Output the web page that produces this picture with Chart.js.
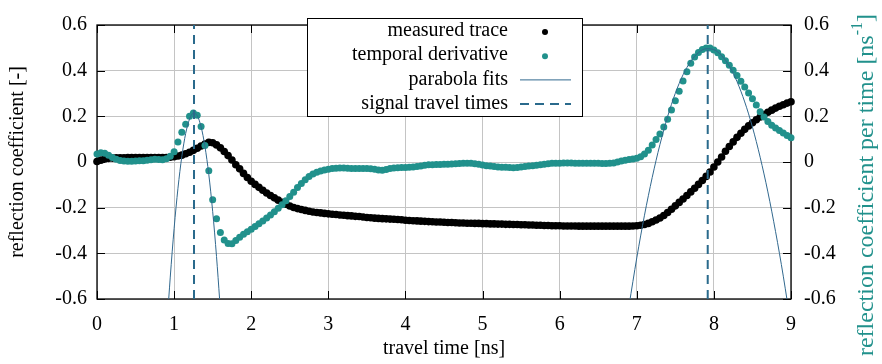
<!DOCTYPE html>
<html>
<head>
<meta charset="utf-8">
<script src="https://cdn.jsdelivr.net/npm/chart.js@4.4.1/dist/chart.umd.min.js"></script>
<style>
  html, body { margin: 0; padding: 0; background: #fff; }
  #wrap { width: 882px; height: 364px; position: relative; }
</style>
</head>
<body>
<div id="wrap"><canvas id="chart"></canvas></div>
<script>
'use strict';

// sampling of the trace (ns between two samples)
const sampleStep = 0.05;

// measured reflection coefficient, one value per sample from 0 ns
const measuredTrace = [
    0.002, 0.008, 0.013, 0.016, 0.017, 0.018, 0.018, 0.018, 0.019, 0.019,
    0.019, 0.019, 0.019, 0.019, 0.019, 0.019, 0.019, 0.019, 0.020, 0.021,
    0.023, 0.026, 0.030, 0.036, 0.043, 0.051, 0.060, 0.070, 0.079, 0.086,
    0.084, 0.075, 0.062, 0.046, 0.028, 0.009, -0.012, -0.030, -0.050, -0.068,
    -0.084, -0.098, -0.111, -0.124, -0.136, -0.147, -0.157, -0.167, -0.176, -0.185,
    -0.193, -0.199, -0.204, -0.208, -0.212, -0.216, -0.219, -0.221, -0.223, -0.225,
    -0.227, -0.229, -0.230, -0.232, -0.233, -0.235, -0.236, -0.238, -0.239, -0.241,
    -0.243, -0.244, -0.246, -0.247, -0.248, -0.249, -0.250, -0.251, -0.252, -0.253,
    -0.255, -0.256, -0.257, -0.258, -0.259, -0.260, -0.261, -0.262, -0.263, -0.263,
    -0.264, -0.265, -0.265, -0.266, -0.267, -0.267, -0.268, -0.268, -0.269, -0.269,
    -0.270, -0.270, -0.271, -0.271, -0.272, -0.272, -0.273, -0.273, -0.274, -0.274,
    -0.275, -0.275, -0.276, -0.276, -0.277, -0.277, -0.278, -0.278, -0.279, -0.279,
    -0.279, -0.280, -0.280, -0.280, -0.280, -0.281, -0.281, -0.281, -0.281, -0.281,
    -0.281, -0.281, -0.281, -0.281, -0.281, -0.281, -0.281, -0.281, -0.281, -0.280,
    -0.279, -0.277, -0.274, -0.269, -0.262, -0.254, -0.245, -0.234, -0.221, -0.207,
    -0.192, -0.177, -0.162, -0.147, -0.131, -0.115, -0.098, -0.081, -0.063, -0.044,
    -0.022, 0.000, 0.022, 0.047, 0.068, 0.088, 0.108, 0.126, 0.143, 0.158,
    0.172, 0.185, 0.197, 0.208, 0.218, 0.227, 0.236, 0.244, 0.251, 0.258,
    0.264
];

// temporal derivative (ns^-1), same sampling
const temporalDerivative = [
    0.035, 0.040, 0.038, 0.030, 0.020, 0.012, 0.007, 0.004, 0.003, 0.003,
    0.004, 0.005, 0.006, 0.008, 0.010, 0.012, 0.011, 0.010, 0.014, 0.025,
    0.045, 0.088, 0.130, 0.165, 0.200, 0.215, 0.205, 0.155, 0.072, -0.038,
    -0.165, -0.248, -0.309, -0.342, -0.357, -0.358, -0.344, -0.330, -0.316, -0.305,
    -0.294, -0.282, -0.270, -0.258, -0.245, -0.232, -0.218, -0.203, -0.187, -0.170,
    -0.151, -0.132, -0.112, -0.094, -0.078, -0.064, -0.053, -0.045, -0.039, -0.035,
    -0.032, -0.029, -0.027, -0.026, -0.026, -0.027, -0.028, -0.029, -0.029, -0.029,
    -0.029, -0.030, -0.032, -0.035, -0.036, -0.033, -0.028, -0.026, -0.025, -0.024,
    -0.024, -0.023, -0.022, -0.020, -0.017, -0.014, -0.012, -0.012, -0.011, -0.011,
    -0.010, -0.010, -0.009, -0.008, -0.007, -0.006, -0.005, -0.006, -0.008, -0.010,
    -0.013, -0.016, -0.018, -0.020, -0.022, -0.023, -0.023, -0.024, -0.025, -0.024,
    -0.022, -0.020, -0.018, -0.016, -0.014, -0.012, -0.010, -0.008, -0.006, -0.005,
    -0.005, -0.004, -0.004, -0.004, -0.005, -0.005, -0.005, -0.005, -0.006, -0.006,
    -0.006, -0.007, -0.007, -0.006, -0.004, 0.000, 0.004, 0.008, 0.011, 0.013,
    0.016, 0.023, 0.035, 0.052, 0.075, 0.098, 0.123, 0.153, 0.187, 0.228,
    0.268, 0.310, 0.355, 0.395, 0.432, 0.460, 0.480, 0.493, 0.499, 0.499,
    0.491, 0.478, 0.461, 0.443, 0.424, 0.402, 0.379, 0.354, 0.328, 0.302,
    0.277, 0.250, 0.220, 0.197, 0.177, 0.161, 0.149, 0.138, 0.127, 0.116,
    0.106
];

// parabola fit around the first peak
const fit1Times = [0.93, 0.95, 1.00, 1.05, 1.10, 1.15, 1.20, 1.25, 1.30, 1.35, 1.40, 1.45, 1.50, 1.55, 1.59];
const fit1Values = [-0.600, -0.504, -0.291, -0.115, 0.024, 0.125, 0.188, 0.214, 0.203, 0.154, 0.068, -0.055, -0.216, -0.414, -0.600];

// parabola fit around the second peak
const fit2Times = [6.9, 7.0, 7.1, 7.2, 7.3, 7.4, 7.5, 7.6, 7.7, 7.8, 7.9, 8.0, 8.1, 8.2, 8.3, 8.4, 8.5, 8.6, 8.7, 8.8, 8.9, 9.0];
const fit2Values = [-0.628, -0.420, -0.233, -0.068, 0.076, 0.199, 0.301, 0.382, 0.441, 0.479, 0.496, 0.492, 0.466, 0.420, 0.352, 0.263, 0.153, 0.021, -0.131, -0.305, -0.500, -0.717];

// signal travel times (ns), vertex of each fit
const travelTimes = [1.258, 7.92];

const xTicks = [0, 1, 2, 3, 4, 5, 6, 7, 8, 9];
const yTicks = [-0.6, -0.4, -0.2, 0, 0.2, 0.4, 0.6];
const yTickLabels = ['-0.6', '-0.4', '-0.2', '0', '0.2', '0.4', '0.6'];

const FONT = "'Liberation Serif', 'Times New Roman', serif";
const TEAL = '#21918c';
const FIT_BLUE = '#31688e';

const toPoints = (vals) => vals.map((v, i) => ({ x: +(i * sampleStep).toFixed(2), y: v }));
const pairPoints = (xs, ys) => xs.map((x, i) => ({ x: x, y: ys[i] }));

Chart.defaults.font.family = FONT;
Chart.defaults.font.size = 20;
Chart.defaults.color = '#000';

// box + inward tick marks, gnuplot style
const framePlugin = {
    id: 'frame',
    beforeDatasetsDraw(chart) {
        const { ctx, chartArea: a, scales } = chart;
        ctx.save();
        ctx.strokeStyle = '#000';
        ctx.lineWidth = 1;
        const tl = 8;
        ctx.beginPath();
        xTicks.forEach(v => {
            const px = Math.round(scales.x.getPixelForValue(v)) + 0.5;
            ctx.moveTo(px, a.bottom); ctx.lineTo(px, a.bottom - tl);
            ctx.moveTo(px, a.top); ctx.lineTo(px, a.top + tl);
        });
        yTicks.forEach(v => {
            const py = Math.round(scales.y.getPixelForValue(v)) + 0.5;
            ctx.moveTo(a.left, py); ctx.lineTo(a.left + tl, py);
            ctx.moveTo(a.right, py); ctx.lineTo(a.right - tl, py);
        });
        ctx.stroke();
        ctx.lineWidth = 1.3;
        ctx.strokeRect(a.left, a.top, a.right - a.left, a.bottom - a.top);
        ctx.restore();
    }
};

// key box in the upper middle, text right aligned with symbol after it
const keyPlugin = {
    id: 'key',
    afterDraw(chart) {
        const { ctx } = chart;
        const seen = new Set();
        const items = chart.data.datasets.filter(d => {
            if (seen.has(d.label)) return false;
            seen.add(d.label);
            return true;
        }).sort((a, b) => a.keyRank - b.keyRank);
        const box = { x: 307, y: 18, w: 275, h: 98 };
        ctx.save();
        ctx.fillStyle = '#fff';
        ctx.fillRect(box.x, box.y, box.w, box.h);
        ctx.strokeStyle = '#000';
        ctx.lineWidth = 1;
        ctx.strokeRect(box.x + 0.5, box.y + 0.5, box.w, box.h);
        ctx.font = '20px ' + FONT;
        ctx.textAlign = 'right';
        ctx.textBaseline = 'middle';
        items.forEach((d, i) => {
            const y = 31 + i * 24.2;
            ctx.fillStyle = '#000';
            ctx.fillText(d.label, 508, y);
            if (d.showLine) {
                ctx.strokeStyle = d.borderColor;
                ctx.lineWidth = d.borderWidth;
                ctx.setLineDash(d.borderDash || []);
                ctx.beginPath();
                ctx.moveTo(520, y + 0.5);
                ctx.lineTo(571, y + 0.5);
                ctx.stroke();
                ctx.setLineDash([]);
            } else {
                ctx.fillStyle = d.pointBackgroundColor;
                ctx.beginPath();
                ctx.arc(545, y + 1, 3, 0, Math.PI * 2);
                ctx.fill();
            }
        });
        ctx.restore();
    }
};

// right axis label with superscript unit
const y2TitlePlugin = {
    id: 'y2title',
    afterDraw(chart) {
        const { ctx } = chart;
        const main = 'reflection coefficient per time [ns';
        const sup = '-1';
        const tail = ']';
        ctx.save();
        ctx.translate(867, 185);
        ctx.rotate(-Math.PI / 2);
        ctx.fillStyle = TEAL;
        ctx.textBaseline = 'middle';
        ctx.textAlign = 'left';
        const big = '24px ' + FONT;
        const small = '16px ' + FONT;
        ctx.font = big;
        const w1 = ctx.measureText(main).width;
        const w3 = ctx.measureText(tail).width;
        ctx.font = small;
        const w2 = ctx.measureText(sup).width;
        let x = -(w1 + w2 + w3) / 2;
        ctx.font = big;
        ctx.fillText(main, x, 0);
        x += w1;
        ctx.font = small;
        ctx.fillText(sup, x, -9);
        x += w2;
        ctx.font = big;
        ctx.fillText(tail, x, 0);
        ctx.restore();
    }
};

const scatterStyle = (color, r) => ({
    showLine: false,
    pointRadius: r,
    pointHoverRadius: r,
    pointBackgroundColor: color,
    pointBorderWidth: 0,
    borderColor: color,
    clip: false
});

const fitStyle = {
    showLine: true,
    borderColor: FIT_BLUE,
    borderWidth: 1,
    pointRadius: 0,
    cubicInterpolationMode: 'monotone',
    yAxisID: 'y1',
    order: 1,
    keyRank: 2
};

const dashStyle = {
    showLine: true,
    borderColor: '#2a6a8c',
    borderWidth: 2,
    borderDash: [9, 6],
    pointRadius: 0,
    yAxisID: 'y1',
    order: 0,
    keyRank: 3
};

const datasets = [
    Object.assign({ label: 'measured trace', data: toPoints(measuredTrace), yAxisID: 'y', order: 3, keyRank: 0 }, scatterStyle('#000', 3.8)),
    Object.assign({ label: 'temporal derivative', data: toPoints(temporalDerivative), yAxisID: 'y1', order: 2, keyRank: 1 }, scatterStyle(TEAL, 3.5)),
    Object.assign({ label: 'parabola fits', data: pairPoints(fit1Times, fit1Values) }, fitStyle),
    Object.assign({ label: 'parabola fits', data: pairPoints(fit2Times, fit2Values) }, fitStyle)
];
travelTimes.forEach(t => {
    datasets.push(Object.assign({ label: 'signal travel times', data: [{ x: t, y: -0.6 }, { x: t, y: 0.6 }] }, dashStyle));
});

const gridColor = '#c4c4c4';

new Chart(document.getElementById('chart'), {
    type: 'scatter',
    data: { datasets: datasets },
    options: {
        responsive: true,
        maintainAspectRatio: false,
        animation: false,
        layout: { padding: { top: 12, left: 0, right: 0, bottom: 0 } },
        plugins: {
            legend: { display: false },
            tooltip: { enabled: false }
        },
        scales: {
            x: {
                type: 'linear',
                position: 'bottom',
                min: 0,
                max: 9,
                afterBuildTicks: (s) => { s.ticks = xTicks.map(v => ({ value: v })); },
                afterFit: (s) => { s.height = 65; },
                ticks: { padding: 14, callback: (v) => String(v), maxRotation: 0 },
                grid: { color: gridColor, lineWidth: 1, drawTicks: false },
                border: { display: false },
                title: { display: true, text: 'travel time [ns]', padding: { top: 0, bottom: 3 } }
            },
            y: {
                type: 'linear',
                position: 'left',
                min: -0.6,
                max: 0.6,
                afterBuildTicks: (s) => { s.ticks = yTicks.map(v => ({ value: v })); },
                afterFit: (s) => { s.width = 97; },
                ticks: { padding: 10, callback: (v, i) => yTickLabels[i] },
                grid: { color: gridColor, lineWidth: 1, drawTicks: false },
                border: { display: false },
                title: { display: true, text: 'reflection coefficient [-]', padding: { top: 6, bottom: 0 } }
            },
            y1: {
                type: 'linear',
                position: 'right',
                min: -0.6,
                max: 0.6,
                afterBuildTicks: (s) => { s.ticks = yTicks.map(v => ({ value: v })); },
                afterFit: (s) => { s.width = 91; },
                ticks: { padding: 13, callback: (v, i) => yTickLabels[i] },
                grid: { display: false, drawTicks: false },
                border: { display: false }
            }
        }
    },
    plugins: [framePlugin, keyPlugin, y2TitlePlugin]
});
</script>
</body>
</html>
